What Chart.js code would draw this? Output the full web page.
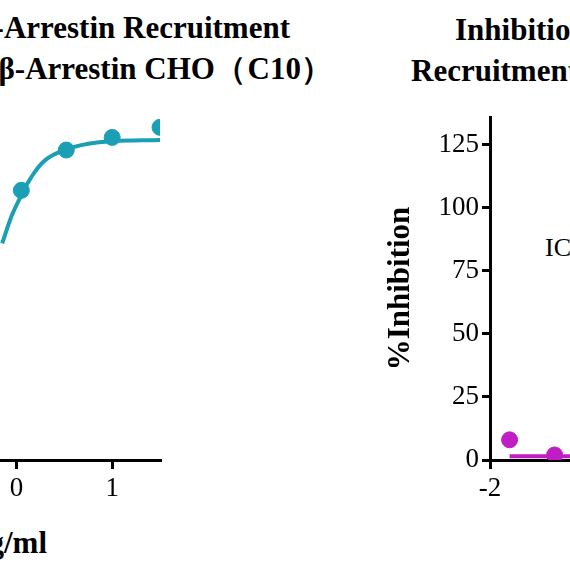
<!DOCTYPE html>
<html><head><meta charset="utf-8">
<script src="https://cdn.jsdelivr.net/npm/chart.js@4"></script>
<style>
body{margin:0;width:570px;height:570px;overflow:hidden;position:relative;background:#fff;font-family:"Liberation Serif",serif}
.t{position:absolute;font-weight:bold;font-size:31px;white-space:nowrap;line-height:1;color:#000}
canvas{position:absolute}
</style></head><body>
<div class="t" style="right:280px;top:12px">PD-1 β-Arrestin Recruitment</div>
<div class="t" style="right:238px;top:53px">PD-1 β-Arrestin CHO<span style="letter-spacing:-6px">（</span> C10<span>）</span></div>
<div class="t" style="left:455px;top:14px">Inhibition of β-Arrestin</div>
<div class="t" style="left:411px;top:55px">Recruitment of β-Arrestin</div>
<div class="t" style="right:523px;top:527px">Log Concentration μg/ml</div>
<div style="position:absolute;left:545px;top:233px;font-size:26px;white-space:nowrap">IC50 = N/A</div>
<div style="position:absolute;left:-300px;top:0;width:470px;height:570px"><canvas id="c1"></canvas></div>
<div style="position:absolute;left:380px;top:0;width:400px;height:570px"><canvas id="c2"></canvas></div>
<script>
const leftX=[0.05,0.52,1.0,1.5];
const leftY=[107,123,128,132];
const leftFitX=[-0.15,-0.05,0.05,0.15,0.3,0.5,0.75,1.0,1.5];
const leftFitY=[86,97,105,112,119,123,125.5,126.5,127];
const leftTicks=[-3,-2,-1,0,1];
const rightX=[-1.8,-1.34];
const rightY=[8,2];
const rightFitX=[-1.8,-1.34,0,0.8];
const rightFitY=[1.5,1.5,1.5,1.5];
const rightXTicks=[-2,-1,0];
const rightTicks=[0,25,50,75,100,125];
const teal='#1a9fb5', mag='#c01ec4';
const font={family:'Liberation Serif',size:27};
const pts=(xs,ys)=>xs.map((x,i)=>({x,y:ys[i]}));
function xAxis(min,max,tk){return {type:'linear',min,max,
  afterFit:s=>{s.height=110},
  afterBuildTicks:s=>{s.ticks=tk.map(v=>({value:v}))},
  border:{color:'#000',width:3},
  grid:{drawOnChartArea:false,color:'#000',lineWidth:3,tickLength:9},
  ticks:{color:'#000',font,padding:4,autoSkip:false}};}
Chart.defaults.animation=false;
new Chart(document.getElementById('c1'),{type:'scatter',
 data:{datasets:[
  {data:pts(leftFitX,leftFitY),showLine:true,borderColor:teal,borderWidth:4,pointRadius:0,tension:0.4},
  {data:pts(leftX,leftY),backgroundColor:teal,borderColor:teal,pointRadius:8}]},
 options:{responsive:true,maintainAspectRatio:false,
  layout:{padding:{top:82,right:10,left:0,bottom:0}},
  plugins:{legend:{display:false},tooltip:{enabled:false}},
  scales:{x:xAxis(-3.216,1.5,leftTicks),y:{display:false,min:0,max:150}}}});
new Chart(document.getElementById('c2'),{type:'scatter',
 data:{datasets:[
  {data:pts(rightFitX,rightFitY),showLine:true,borderColor:mag,borderWidth:4,pointRadius:0},
  {data:pts(rightX,rightY),backgroundColor:mag,borderColor:mag,pointRadius:8}]},
 options:{responsive:true,maintainAspectRatio:false,
  layout:{padding:{top:117,right:10,left:0,bottom:0}},
  plugins:{legend:{display:false},tooltip:{enabled:false}},
  scales:{x:xAxis(-2,0.86,rightXTicks),
   y:{min:0,max:136,afterFit:s=>{s.width=110},
    afterBuildTicks:s=>{s.ticks=rightTicks.map(v=>({value:v}))},
    border:{color:'#000',width:3},
    grid:{drawOnChartArea:false,color:'#000',lineWidth:3,tickLength:8},
    ticks:{color:'#000',font,padding:3},
    title:{display:true,text:'%Inhibition',color:'#000',font:{family:'Liberation Serif',size:31,weight:'bold'},padding:{top:2,bottom:0}}}}}});
</script></body></html>
